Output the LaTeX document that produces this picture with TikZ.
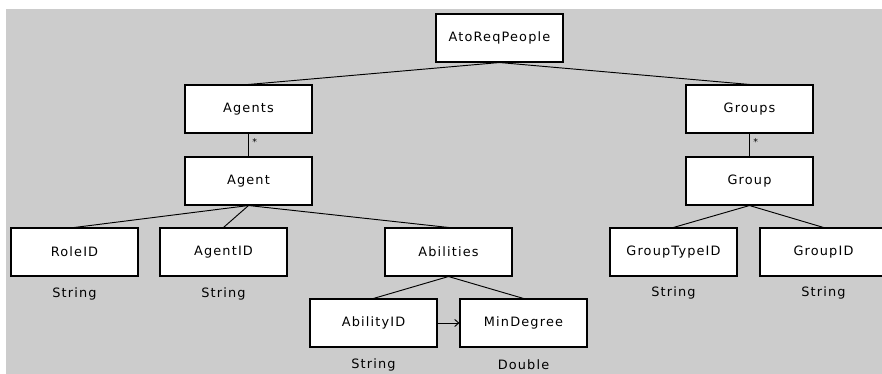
\documentclass[tikz,border=0pt]{standalone}
\usepackage{fontspec}
\setmainfont{DejaVu Sans}[LetterSpace=9]
\usetikzlibrary{positioning}
\usetikzlibrary{arrows.meta}
\definecolor{canvas}{HTML}{CCCCCC}
\tikzset{elem/.style = {draw, fill=white, line width=0.9pt, minimum width=3.81cm,
                        minimum height=1.44cm, inner sep=0, font=\fontsize{11}{13}\selectfont}}
\tikzset{typ/.style = {inner sep=0, font=\fontsize{11}{13}\selectfont}}
\tikzset{link/.style = {line width=0.8pt}}
\tikzset{mult/.style = {inner sep=3pt, font=\fontsize{8}{8}\selectfont}}

\begin{document}
\begin{tikzpicture}[x=0.03cm, y=-0.03cm]
      \useasboundingbox (0,0) rectangle (882,374);
      \clip (0,0) rectangle (882,374);
      \fill[canvas] (6,9) rectangle (882,374);

      % tree
      \node[elem] (root) at (499.5,38) {AtoReqPeople};
      \node[elem] (agents) at (248.5,109) {Agents};
      \node[elem] (agent) at (248.5,181) {Agent};
      \node[elem] (groups) at (749.5,109) {Groups};
      \node[elem] (group) at (749.5,181) {Group};

      \node[elem] (role) at (74.5,252) {RoleID};
      \node[elem] (agentid) at (223.5,252) {AgentID};
      \node[elem] (abil) at (448.5,252) {Abilities};
      \node[elem] (abilid) at (373.5,323) {AbilityID};
      \node[elem] (mindeg) at (523.5,323) {MinDegree};
      \node[elem] (gtype) at (673.5,252) {GroupTypeID};
      \node[elem] (gid) at (823.5,252) {GroupID};

      % types
      \node[typ] (t1) at (74.5,294) {String};
      \node[typ] (t2) at (223.5,294) {String};
      \node[typ] (t3) at (373.5,365) {String};
      \node[typ] (t4) at (523.5,365) {Double};
      \node[typ] (t5) at (673.5,293) {String};
      \node[typ] (t6) at (823.5,293) {String};

      \draw[link] (root.south) -- (agents.north);
      \draw[link] (root.south) -- (groups.north);
      \draw[link] (agents.south) -- (agent.north) node[mult, pos=0.35, right] {*};
      \draw[link] (groups.south) -- (group.north) node[mult, pos=0.35, right] {*};
      \draw[link] (agent.south) -- (role.north);
      \draw[link] (agent.south) -- (agentid.north);
      \draw[link] (agent.south) -- (abil.north);
      \draw[link] (abil.south) -- (abilid.north);
      \draw[link] (abil.south) -- (mindeg.north);
      \draw[link] (group.south) -- (gtype.north);
      \draw[link] (group.south) -- (gid.north);
      \draw[link, -{Straight Barb[length=3.5pt, width=6pt]}] (abilid.east) -- (mindeg.west);
    \end{tikzpicture}
\end{document}
